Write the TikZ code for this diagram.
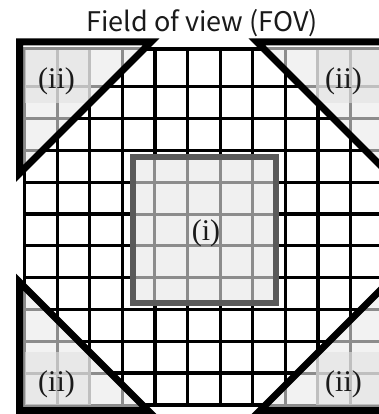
\documentclass[tikz,border=0pt]{standalone}
\usepackage{fontspec}
\newfontfamily\titlefont{Noto Sans CJK JP}
\newfontfamily\labelfont{Liberation Serif}
\usepackage{xcolor}
\definecolor{cellgrey}{HTML}{8C8C8C}
\definecolor{cornerfill}{HTML}{F2F2F2}
\definecolor{blockfill}{HTML}{E2E2E2}
\definecolor{boxfill}{HTML}{F0F0F0}
\definecolor{boxedge}{HTML}{5A5A5A}
\definecolor{labelink}{HTML}{1A1A1A}

\begin{document}
\begin{tikzpicture}[x=1pt,y=-1pt,
    blackline/.style={line width=3.2pt,black},
    greyline/.style={line width=3pt,cellgrey},
    frame/.style={line width=7pt,black,line join=miter},
    lab/.style={font=\labelfont\fontsize{30}{30}\selectfont,text=labelink,inner sep=0pt}
]
\useasboundingbox (0,0) rectangle (378,414);

% corners of the four clipped triangles
\coordinate (tl1) at (19.5,42);   \coordinate (tl2) at (151,42);    \coordinate (tl3) at (19.5,173.5);
\coordinate (tr1) at (388.5,42);  \coordinate (tr2) at (257,42);    \coordinate (tr3) at (388.5,173.5);
\coordinate (bl1) at (19.5,410.5);\coordinate (bl2) at (148,410.5); \coordinate (bl3) at (19.5,282);
\coordinate (br1) at (388.5,410.5);\coordinate (br2) at (260,410.5);\coordinate (br3) at (388.5,282);

% full grid
\fill[white] (24.5,49) rectangle (383,405);
\foreach \i in {1,...,10}
  \draw[blackline] ({24.5+32.6*\i},49) -- ({24.5+32.6*\i},405);
\foreach \j in {1,...,10}
  \draw[blackline] (24.5,{55+31.8*\j}) -- (383,{55+31.8*\j});
\draw[blackline] (24.5,49) rectangle (383,405);

% shaded corners (ii)
\foreach \c/\bx/\by in {tl/25/50,tr/316/50,bl/25/352,br/316/352}{
  \begin{scope}
    \clip (\c1) -- (\c2) -- (\c3) -- cycle;
    \fill[cornerfill] (24.5,49) rectangle (383,405);
    \foreach \i in {1,...,10}
      \draw[greyline] ({24.5+32.6*\i},49) -- ({24.5+32.6*\i},405);
    \foreach \j in {1,...,10}
      \draw[greyline] (24.5,{55+31.8*\j}) -- (383,{55+31.8*\j});
    \draw[greyline] (24.5,49) rectangle (383,405);
    \fill[blockfill,opacity=0.6] (\bx,\by) rectangle +(66,53);
  \end{scope}
  \draw[frame] (\c1) -- (\c2) -- (\c3) -- cycle;
}

% central region (i)
\fill[boxfill] (133,157) rectangle (276,303);
\begin{scope}
  \clip (133,157) rectangle (276,303);
  \foreach \i in {1,...,10}
    \draw[greyline] ({24.5+32.6*\i},49) -- ({24.5+32.6*\i},405);
  \foreach \j in {1,...,10}
    \draw[greyline] (24.5,{55+31.8*\j}) -- (383,{55+31.8*\j});
\end{scope}
\draw[line width=6pt,boxedge] (133,157) rectangle (276,303);

\node[lab] (ctr) at (206,233) {(i)};
\node[lab] (tl) at (56.5,81.5) {(ii)};
\node[lab] (tr) at (343.5,81.5) {(ii)};
\node[lab] (bl) at (56.5,384) {(ii)};
\node[lab] (br) at (343.5,384) {(ii)};

\node[font=\titlefont\fontsize{27}{27}\selectfont,text=labelink,anchor=base] (fov) at (202,31.5) {Field of view (FOV)};
\end{tikzpicture}
\end{document}
